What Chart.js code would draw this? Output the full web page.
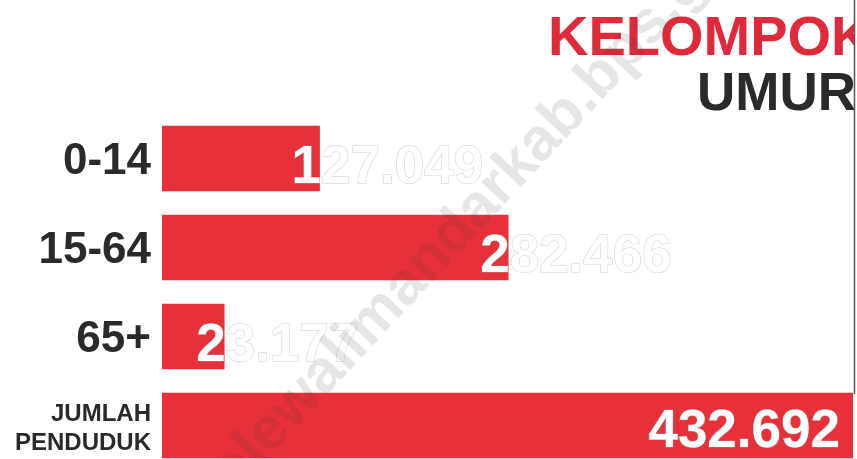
<!DOCTYPE html>
<html>
<head>
<meta charset="utf-8">
<script src="https://cdn.jsdelivr.net/npm/chart.js@4.4.1/dist/chart.umd.min.js"></script>
<style>
  html, body { margin: 0; padding: 0; background: #fff; overflow: hidden; }
  #wrap { position: relative; width: 857px; height: 472px; }
</style>
</head>
<body>
<div id="wrap"><canvas id="chart"></canvas></div>
<script>
// age groups and population (BPS infographic)
const categories = ['0-14', '15-64', '65+', ['JUMLAH', 'PENDUDUK']];
const populations = [127049, 282466, 23177, 432692];
// bar lengths as drawn in the infographic (share of the full row, not to scale)
const barLengths = [22.8, 50.1, 9.0, 100];
const titleLines = ['KELOMPOK', 'UMUR'];
const watermark = 'polewalimandarkab.bps.go.id';

const RED = '#e8303a';
const DARK = '#2a2a2a';
const FONT = '"Liberation Sans", Arial, sans-serif';

function fmt(n) {
  return String(n).replace(/\B(?=(\d{3})+(?!\d))/g, '.');
}

const labelsPlugin = {
  id: 'labels',
  afterDatasetsDraw(chart) {
    const ctx = chart.ctx;
    const y = chart.scales.y;
    const bars = chart.getDatasetMeta(0).data;
    ctx.save();

    // category names left of the bars
    ctx.fillStyle = DARK;
    ctx.textAlign = 'right';
    ctx.textBaseline = 'alphabetic';
    categories.forEach((c, i) => {
      const cy = y.getPixelForValue(i);
      if (Array.isArray(c)) {
        ctx.font = 'bold 24px ' + FONT;
        ctx.fillText(c[0], 151, cy - 5);
        ctx.fillText(c[1], 151, cy + 24);
      } else {
        ctx.font = 'bold 44px ' + FONT;
        ctx.fillText(c, 151, cy + 15);
      }
    });

    // values, white with a faint outline
    ctx.font = 'bold 53px ' + FONT;
    ctx.fillStyle = '#ffffff';
    ctx.strokeStyle = 'rgba(170,170,170,0.6)';
    ctx.lineWidth = 1;
    bars.forEach((b, i) => {
      const txt = fmt(populations[i]);
      let tx, ty;
      if (i === bars.length - 1) {
        ctx.textAlign = 'right';
        tx = b.x - 13; ty = b.y + 21;
      } else {
        ctx.textAlign = 'left';
        tx = b.x - 28; ty = b.y + 24;
      }
      ctx.strokeText(txt, tx, ty);
      ctx.fillText(txt, tx, ty);
    });

    // title, cut by the frame line on the right
    ctx.save();
    ctx.beginPath();
    ctx.rect(0, 0, 854, chart.height);
    ctx.clip();
    ctx.textAlign = 'left';
    ctx.fillStyle = '#e02a3c';
    ctx.font = 'bold 56px ' + FONT;
    ctx.fillText(titleLines[0], 548, 55);
    ctx.fillStyle = DARK;
    ctx.font = 'bold 53px ' + FONT;
    ctx.fillText(titleLines[1], 697, 110);
    ctx.restore();

    ctx.strokeStyle = '#555';
    ctx.lineWidth = 1.5;
    ctx.beginPath();
    ctx.moveTo(854.5, 0);
    ctx.lineTo(854.5, 394);
    ctx.stroke();

    // watermark
    ctx.translate(194, 508);
    ctx.rotate(-47 * Math.PI / 180);
    ctx.font = 'bold 60px ' + FONT;
    ctx.fillStyle = 'rgba(60,60,60,0.13)';
    ctx.textAlign = 'left';
    ctx.fillText(watermark, 0, 20);
    ctx.restore();
  }
};

new Chart(document.getElementById('chart'), {
  type: 'bar',
  data: {
    labels: categories,
    datasets: [{
      data: barLengths,
      backgroundColor: RED,
      barThickness: 65
    }]
  },
  options: {
    indexAxis: 'y',
    responsive: true,
    maintainAspectRatio: false,
    animation: false,
    layout: { padding: { left: 162, right: 4, top: 114, bottom: 2 } },
    scales: {
      x: { display: false, min: 0, max: 100 },
      y: { display: false }
    },
    plugins: {
      legend: { display: false },
      tooltip: { enabled: false }
    }
  },
  plugins: [labelsPlugin]
});
</script>
</body>
</html>
